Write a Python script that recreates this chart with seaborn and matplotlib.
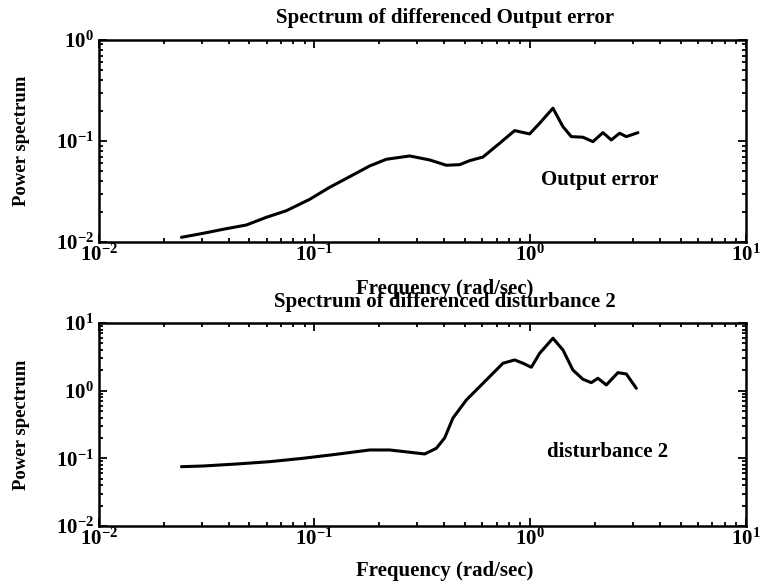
import matplotlib
matplotlib.use("Agg")
import matplotlib.pyplot as plt
import seaborn as sns
import numpy as np
from matplotlib.ticker import LogLocator, NullFormatter

# Spectrum of the differenced output error
freq_out = [0.02418, 0.03046, 0.03771, 0.04838, 0.05991, 0.0742, 0.09515, 0.1178, 0.1458,
            0.1805, 0.2158, 0.2767, 0.3425, 0.4095, 0.4719, 0.5251, 0.6049, 0.7236, 0.8488,
            0.9963, 1.109, 1.278, 1.422, 1.555, 1.760, 1.959, 2.179, 2.384, 2.604, 2.798, 3.168]
power_out = [0.01113, 0.01219, 0.01336, 0.01474, 0.01757, 0.02042, 0.02647, 0.0348, 0.0443,
             0.05655, 0.06588, 0.07101, 0.06484, 0.05745, 0.05824, 0.06383, 0.06927, 0.09489, 0.1265,
             0.1173, 0.1497, 0.2108, 0.1385, 0.1103, 0.1088, 0.0984, 0.1208, 0.1023, 0.1192, 0.1103, 0.1208]

# Spectrum of the differenced disturbance 2
freq_dist = [0.02418, 0.03046, 0.0435, 0.06206, 0.08857, 0.1265, 0.1805, 0.2235, 0.2767,
             0.3248, 0.368, 0.402, 0.4394, 0.507, 0.5842, 0.6737, 0.7494, 0.8488, 0.9277,
             1.0146, 1.109, 1.278, 1.422, 1.581, 1.760, 1.925, 2.066, 2.260, 2.558, 2.798, 3.113]
power_dist = [0.0752, 0.077, 0.0824, 0.0892, 0.1001, 0.1147, 0.1328, 0.1328, 0.1229,
              0.1159, 0.1407, 0.1998, 0.3946, 0.7281, 1.145, 1.806, 2.538, 2.839, 2.538,
              2.215, 3.566, 5.94, 3.99, 2.02, 1.472, 1.312, 1.523, 1.213, 1.843, 1.763, 1.084]

titles = ["Spectrum of differenced Output error", "Spectrum of differenced disturbance 2"]
labels = ["Output error", "disturbance 2"]
xlabel = "Frequency (rad/sec)"
ylabel = "Power spectrum"

sns.set_style("ticks")
plt.rcParams["font.family"] = ["Liberation Serif", "DejaVu Serif"]
plt.rcParams["font.weight"] = "bold"
plt.rcParams["mathtext.fontset"] = "stix"
plt.rcParams["text.color"] = "black"
plt.rcParams["axes.labelcolor"] = "black"

fig = plt.figure(figsize=(7.6, 5.86), dpi=100)
ax1 = fig.add_axes([0.130, 0.587, 0.851, 0.345])
ax2 = fig.add_axes([0.130, 0.1024, 0.851, 0.3465])

panels = [
    (ax1, freq_out, power_out, (1e-2, 1e0), titles[0], 12, -0.185, labels[0], (2.1, 0.041)),
    (ax2, freq_dist, power_dist, (1e-2, 1e1), titles[1], 11.5, -0.17, labels[1], (2.3, 0.126)),
]

for ax, fx, py, ylim, title, tpad, xly, lab, lpos in panels:
    sns.lineplot(x=fx, y=py, ax=ax, color="black", linewidth=2.2, sort=True)
    ax.set_xscale("log")
    ax.set_yscale("log")
    ax.set_xlim(1e-2, 1e1)
    ax.set_ylim(*ylim)
    ax.xaxis.set_major_locator(LogLocator(base=10, numticks=10))
    ax.yaxis.set_major_locator(LogLocator(base=10, numticks=10))
    ax.xaxis.set_minor_locator(LogLocator(base=10, subs=np.arange(2, 10), numticks=10))
    ax.yaxis.set_minor_locator(LogLocator(base=10, subs=np.arange(2, 10), numticks=10))
    ax.xaxis.set_minor_formatter(NullFormatter())
    ax.yaxis.set_minor_formatter(NullFormatter())
    ax.tick_params(which="both", direction="in", top=True, right=True,
                   labelsize=15, width=1.3, colors="black")
    ax.tick_params(which="major", length=6)
    ax.tick_params(which="minor", length=3)
    ax.tick_params(axis="x", which="major", pad=2)
    for sp in ax.spines.values():
        sp.set_linewidth(1.8)
        sp.set_color("black")
    ax.set_title(title, fontsize=15, fontweight="bold", x=0.535, pad=tpad, color="black")
    ax.set_xlabel(xlabel, fontsize=15, fontweight="bold", color="black")
    ax.xaxis.set_label_coords(0.535, xly)
    ax.set_ylabel(ylabel, fontsize=13.5, fontweight="bold", color="black")
    ax.yaxis.set_label_coords(-0.107, 0.5)
    ax.text(lpos[0], lpos[1], lab, fontsize=15, fontweight="bold",
            ha="center", va="center", color="black")

fig.savefig("out.png", dpi=100)
